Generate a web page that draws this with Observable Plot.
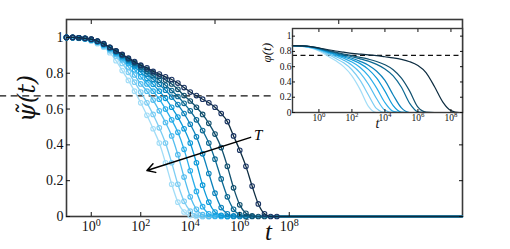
<!DOCTYPE html>
<html><head><meta charset="utf-8">
<script src="https://cdn.jsdelivr.net/npm/d3@7"></script>
<script src="https://cdn.jsdelivr.net/npm/@observablehq/plot@0.6"></script>
<style>
html,body{margin:0;padding:0;background:#fff;}
#wrap{position:relative;width:510px;height:249px;overflow:hidden;}
#wrap svg{position:absolute;left:0;top:0;}
</style></head><body><div id="wrap"></div>
<script>
// ---- main panel: psi~(t), markers every quarter decade starting at t = 10^-1
const mainLogT = [-1,-0.75,-0.5,-0.25,0,0.25,0.5,0.75,1,1.25,1.5,1.75,2,2.25,2.5,2.75,3,3.25,3.5,3.75,4,4.25,4.5,4.75,5,5.25,5.5,5.75,6,6.25,6.5,6.75,7,7.25,7.5];
const psi0 = [1.0,0.998,0.995,0.99,0.98,0.965,0.945,0.915,0.87,0.815,0.76,0.70,0.635,0.565,0.49,0.41,0.30,0.18,0.08,0.025,0.005,0,0];
const psi1 = [1.0,0.998,0.996,0.992,0.983,0.97,0.95,0.925,0.895,0.855,0.805,0.75,0.695,0.635,0.57,0.495,0.41,0.30,0.18,0.085,0.03,0.008,0,0];
const psi2 = [1.0,0.999,0.996,0.993,0.985,0.973,0.955,0.932,0.905,0.875,0.835,0.79,0.74,0.70,0.65,0.59,0.525,0.45,0.345,0.22,0.11,0.04,0.01,0,0];
const psi3 = [1.0,0.999,0.997,0.993,0.986,0.975,0.958,0.937,0.912,0.885,0.855,0.82,0.78,0.74,0.70,0.655,0.60,0.54,0.47,0.375,0.255,0.14,0.055,0.015,0.003,0,0];
const psi4 = [1.0,0.999,0.997,0.994,0.987,0.976,0.96,0.94,0.917,0.892,0.866,0.837,0.805,0.772,0.738,0.70,0.66,0.61,0.555,0.49,0.41,0.30,0.175,0.08,0.025,0.006,0,0];
const psi5 = [1.0,1.0,0.997,0.994,0.988,0.977,0.962,0.942,0.92,0.897,0.873,0.848,0.822,0.795,0.767,0.737,0.705,0.667,0.625,0.575,0.515,0.445,0.35,0.24,0.13,0.05,0.015,0.003,0,0];
const psi6 = [1.0,1.0,0.998,0.995,0.989,0.978,0.963,0.943,0.922,0.90,0.878,0.856,0.833,0.81,0.786,0.761,0.733,0.703,0.67,0.632,0.59,0.54,0.48,0.41,0.32,0.21,0.11,0.04,0.01,0,0];
const psi7 = [1.0,1.0,0.998,0.995,0.99,0.979,0.964,0.944,0.924,0.903,0.882,0.861,0.841,0.822,0.802,0.783,0.762,0.74,0.71,0.675,0.645,0.61,0.57,0.52,0.46,0.385,0.28,0.16,0.065,0.018,0.003,0,0];
const psi8 = [1.0,1.0,0.998,0.995,0.99,0.98,0.965,0.945,0.925,0.905,0.885,0.865,0.845,0.83,0.81,0.795,0.78,0.765,0.745,0.72,0.695,0.675,0.655,0.635,0.61,0.575,0.53,0.45,0.37,0.28,0.17,0.07,0.015,0,0];
const psiSeries = [psi0,psi1,psi2,psi3,psi4,psi5,psi6,psi7,psi8];

// ---- inset: phi(t)
const insetLogT = [-1.6,-1,-0.5,0,0.5,1,1.5,2,2.5,3,3.5,4,4.5,5,5.5,6,6.5,7,7.5,8,8.5];
const phi0 = [0.875,0.865,0.845,0.805,0.745,0.68,0.60,0.48,0.30,0.08,0];
const phi1 = [0.875,0.867,0.85,0.815,0.765,0.71,0.65,0.56,0.42,0.23,0.05,0];
const phi2 = [0.875,0.868,0.853,0.822,0.78,0.735,0.685,0.62,0.52,0.37,0.18,0.03,0];
const phi3 = [0.875,0.869,0.856,0.828,0.79,0.752,0.71,0.66,0.59,0.48,0.32,0.13,0.015,0];
const phi4 = [0.875,0.87,0.858,0.833,0.798,0.763,0.728,0.69,0.64,0.565,0.45,0.28,0.09,0.005,0];
const phi5 = [0.875,0.871,0.86,0.837,0.805,0.773,0.742,0.71,0.67,0.62,0.54,0.42,0.23,0.06,0];
const phi6 = [0.875,0.871,0.861,0.84,0.81,0.782,0.756,0.73,0.703,0.672,0.63,0.57,0.48,0.33,0.12,0.01,0];
const phi7 = [0.875,0.872,0.862,0.842,0.815,0.79,0.766,0.744,0.722,0.698,0.668,0.625,0.56,0.45,0.28,0.07,0.005,0];
const phi8 = [0.875,0.872,0.863,0.845,0.825,0.805,0.79,0.775,0.765,0.755,0.745,0.73,0.715,0.695,0.665,0.615,0.52,0.34,0.14,0.025,0];
const phiSeries = [phi0,phi1,phi2,phi3,phi4,phi5,phi6,phi7,phi8];

// ---- colours (light -> dark, increasing series index)
const lineColors = ["#a2ddf7","#7bcdf3","#52bdef","#2aaeea","#0d9ad9","#0b82bb","#0c6993","#11506e","#0d2c40"];
const markerColors = ["#a2ddf7","#7bcdf3","#52bdef","#2aaeea","#0d9ad9","#0b82bb","#0c6993","#11506e","#1a3463"];

// ---- ticks, reference values, annotations
const mainYTicks = [0,0.2,0.4,0.6,0.8,1];
const mainYTickLabels = ["0","0.2","0.4","0.6","0.8","1"];
const mainXTickExps = [0,2,4,6,8];
const mainTopTickExps = [0,5,10];
const insetYTicks = [0,0.2,0.4,0.6,0.8,1];
const insetYTickLabels = ["0","0.2","0.4","0.6","0.8","1"];
const insetXTickExps = [0,2,4,6,8];
const mainPlateau = 0.674;
const insetPlateau = 0.748;
const mainDashLogExtent = [-3.7, 7.3];
const arrowTail = {logT: 6.44, v: 0.442};
const arrowHead = {logT: 2.25, v: 0.257};
const arrowLabel = {logT: 6.74, v: 0.452, text: "T"};
const mainYLabel = "ψ\u0303(t)";
const mainXLabel = "t";
const insetYLabel = "φ(t)";
const insetXLabel = "t";

const serif = "Liberation Serif";
const expFmt = d => "10^" + Math.round(Math.log10(d));

// ---- main plot
const mainMarks = [
  Plot.ruleY([mainPlateau], {x1: 10 ** mainDashLogExtent[0], x2: 10 ** mainDashLogExtent[1], stroke: "#111", strokeWidth: 1.2, strokeDasharray: "7,4.5"}),
  Plot.frame({stroke: "#3a3a3a", strokeWidth: 1.6})
];
psiSeries.forEach((vals, i) => {
  const pts = vals.map((v, j) => ({t: 10 ** mainLogT[j], v}));
  mainMarks.push(Plot.line([...pts, {t: 1e15, v: 0}], {x: "t", y: "v", stroke: lineColors[i], strokeWidth: 1.3, curve: "monotone-x"}));
  mainMarks.push(Plot.dot(pts, {x: "t", y: "v", r: 2.3, stroke: markerColors[i], strokeWidth: 1.1, fill: "none"}));
});
mainMarks.push(
  Plot.arrow([{x1: 10 ** arrowTail.logT, y1: arrowTail.v, x2: 10 ** arrowHead.logT, y2: arrowHead.v}], {x1: "x1", y1: "y1", x2: "x2", y2: "y2", stroke: "#000", strokeWidth: 1.5, headLength: 9}),
  Plot.text([arrowLabel], {x: d => 10 ** d.logT, y: "v", text: "text", fontStyle: "italic", fontSize: 15, fill: "#000"}),
  Plot.axisY(mainYTicks, {anchor: "left", tickSize: -4, tickPadding: 7, tickFormat: (d, i) => mainYTickLabels[i], label: null, fontSize: 14}),
  Plot.axisY(mainYTicks, {anchor: "right", tickSize: -4, tickFormat: () => "", label: null}),
  Plot.axisX(mainXTickExps.map(e => 10 ** e), {anchor: "bottom", tickSize: -4, tickPadding: 9, tickFormat: expFmt, label: null, fontSize: 14}),
  Plot.axisX(mainTopTickExps.map(e => 10 ** e), {anchor: "top", tickSize: -4, tickFormat: () => "", label: null}),
  Plot.text([mainYLabel], {frameAnchor: "left", dx: -39, dy: 4, rotate: -90, fontSize: 24, fontStyle: "italic", fontFamily: "DejaVu Serif", fill: "#111"}),
  Plot.text([mainXLabel], {frameAnchor: "bottom", dx: 4, dy: 23, fontSize: 25, fontStyle: "italic", fill: "#111"})
);

const mainSvg = Plot.plot({
  width: 510, height: 249,
  marginLeft: 66, marginRight: 48, marginTop: 19, marginBottom: 33,
  x: {type: "log", domain: [1e-1, 1e15]},
  y: {domain: [0, 1.1]},
  style: {fontFamily: serif, fontSize: "14px", background: "transparent", color: "#111"},
  marks: mainMarks
});

// ---- inset plot
const insetMarks = [
  Plot.frame({fill: "white", stroke: null}),
  Plot.ruleY([insetPlateau], {stroke: "#111", strokeWidth: 1.1, strokeDasharray: "5,3.5"})
];
phiSeries.forEach((vals, i) => {
  const pts = vals.map((v, j) => ({t: 10 ** insetLogT[j], v}));
  insetMarks.push(Plot.line([...pts, {t: 10 ** 8.7, v: 0}], {x: "t", y: "v", stroke: lineColors[i], strokeWidth: 1.2, curve: "monotone-x"}));
});
insetMarks.push(
  Plot.frame({stroke: "#3a3a3a", strokeWidth: 1.4}),
  Plot.axisY(insetYTicks, {anchor: "left", tickSize: -3, tickPadding: 4, tickFormat: (d, i) => insetYTickLabels[i], label: null, fontSize: 9.5}),
  Plot.axisY(insetYTicks, {anchor: "right", tickSize: -3, tickFormat: () => "", label: null}),
  Plot.axisX(insetXTickExps.map(e => 10 ** e), {anchor: "bottom", tickSize: -3, tickPadding: 5, tickFormat: expFmt, label: null, fontSize: 9.5}),
  Plot.axisX(insetXTickExps.map(e => 10 ** e), {anchor: "top", tickSize: -3, tickFormat: () => "", label: null}),
  Plot.text([insetYLabel], {frameAnchor: "left", dx: -26, dy: -8, rotate: -90, fontSize: 13, fontStyle: "italic", fill: "#111"}),
  Plot.text([insetXLabel], {frameAnchor: "bottom", dy: 15, fontSize: 14, fontStyle: "italic", fill: "#111"})
);
const insetSvg = Plot.plot({
  width: 510, height: 249,
  marginLeft: 292, marginRight: 48, marginTop: 28, marginBottom: 137,
  x: {type: "log", domain: [10 ** -1.6, 10 ** 8.7]},
  y: {domain: [0, 1.1]},
  style: {fontFamily: serif, fontSize: "9.5px", background: "transparent", color: "#111"},
  marks: insetMarks
});

// superscript exponents in tick labels
function supify(svg) {
  const NS = "http://www.w3.org/2000/svg";
  svg.querySelectorAll("text").forEach(t => {
    const m = /^10\^(-?\d+)$/.exec(t.textContent);
    if (!m) return;
    t.textContent = "10";
    const s = document.createElementNS(NS, "tspan");
    s.setAttribute("dy", "-0.55em");
    s.setAttribute("font-size", "0.72em");
    s.textContent = m[1];
    t.appendChild(s);
  });
}
supify(mainSvg); supify(insetSvg);
const wrap = document.getElementById("wrap");
wrap.appendChild(mainSvg);
wrap.appendChild(insetSvg);
</script></body></html>
